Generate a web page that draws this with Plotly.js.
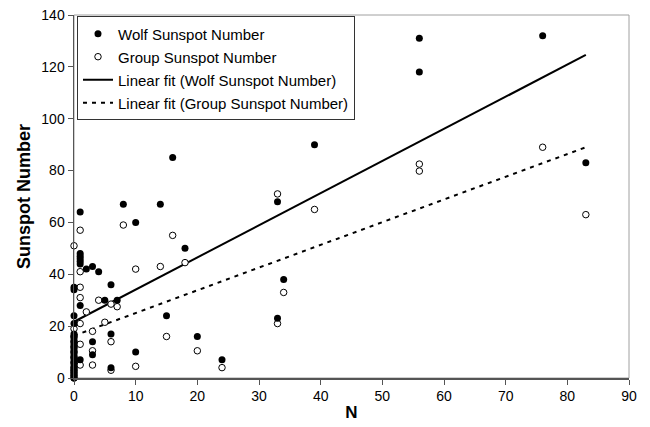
<!DOCTYPE html>
<html>
<head>
<meta charset="utf-8">
<script src="https://cdn.plot.ly/plotly-3.0.1.min.js"></script>
<style>html,body{margin:0;padding:0;background:#fff;}#chart{width:650px;height:427px;}</style>
</head>
<body>
<div id="chart"></div>
<script>
// Wolf Sunspot Number points (N, value)
var wolfN = [0,0,0,0,0,0,0,0,0,0,0,0,0,0,0,0,0,0,0,0,0,0,
             1,1,1,1,1,1,1,1, 2, 3,3,3, 4, 5, 6,6,6, 7, 8, 10,10, 14, 15, 16, 18, 20, 24, 33,33, 34, 39, 56,56, 76, 83];
var wolfSSN = [0,1,2,3,4,5,6,7,8,9,10,11,12,13,14,15,16,17,21,24,34,35,
               64,48,47,46,45,44,28,7, 42, 43,14,9, 41, 30, 36,17,4, 30, 67, 60,10, 67, 24, 85, 50, 16, 7, 68,23, 38, 90, 131,118, 132, 83];
// Group Sunspot Number points (N, value)
var groupN = [0,0,0,0,0,0,0,0,0,0,0,0,0,
              1,1,1,1,1,1,1, 2, 3,3,3, 4, 5, 6,6,6, 7, 8, 10,10, 14, 15, 16, 18, 20, 24, 33,33, 34, 39, 56,56, 76, 83];
var groupSSN = [0,1,2,3,4,6,8,10,12,14,16,19,51,
                57,41,35,31,21,13,5, 25.5, 18,10.5,5, 30, 21.5, 28.5,14,3, 27.5, 59, 42,4.5, 43, 16, 55, 44.5, 10.5, 4, 71,21, 33, 65, 82.5,79.8, 89, 63];
// Linear fit end points
var fitN = [0, 83];
var wolfFit = [21.7, 124.6];
var groupFit = [16.3, 89.0];

var xTicks = [0,10,20,30,40,50,60,70,80,90];
var yTicks = [0,20,40,60,80,100,120,140];

var FONT = "'Liberation Sans', Arial, sans-serif";

var traces = [
  {x: fitN, y: wolfFit, type: 'scatter', mode: 'lines', name: 'Linear fit (Wolf Sunspot Number)',
   legendgroup: 'c', legendrank: 3, line: {color: '#000', width: 2}},
  {x: fitN, y: groupFit, type: 'scatter', mode: 'lines', name: 'Linear fit (Group Sunspot Number)',
   legendgroup: 'd', legendrank: 4, line: {color: '#000', width: 2, dash: '4px,5px'}},
  {x: groupN, y: groupSSN, type: 'scatter', mode: 'markers', name: 'Group Sunspot Number',
   legendgroup: 'b', legendrank: 2, cliponaxis: false,
   marker: {symbol: 'circle', size: 6.5, color: '#fff', line: {width: 1, color: '#000'}}},
  {x: wolfN, y: wolfSSN, type: 'scatter', mode: 'markers', name: 'Wolf Sunspot Number',
   legendgroup: 'a', legendrank: 1, cliponaxis: false,
   marker: {symbol: 'circle', size: 7, color: '#000', line: {width: 0}}}
];

var layout = {
  width: 650, height: 427,
  margin: {l: 74, r: 21, t: 15, b: 49, pad: 0},
  paper_bgcolor: '#fff', plot_bgcolor: '#fff',
  font: {family: FONT, size: 14, color: '#000'},
  showlegend: true,
  legend: {x: 0.0054, y: 0.996, xanchor: 'left', yanchor: 'top',
           bgcolor: '#fff', bordercolor: '#333', borderwidth: 1,
           font: {family: FONT, size: 15, color: '#000'},
           traceorder: 'grouped', tracegroupgap: 0.5},
  xaxis: {range: [0, 90], tickvals: xTicks, ticktext: xTicks.map(String),
          showgrid: false, zeroline: false, showline: true, linecolor: '#555', linewidth: 1.5,
          ticks: 'outside', ticklen: 5, tickwidth: 1, tickcolor: '#555',
          tickfont: {family: FONT, size: 14, color: '#000'},
          title: {text: '<b>N</b>', font: {family: FONT, size: 17, color: '#000'}, standoff: 3}},
  yaxis: {range: [0, 140], tickvals: yTicks, ticktext: yTicks.map(String),
          showgrid: false, zeroline: false, showline: true, linecolor: '#555', linewidth: 1.5,
          ticks: 'outside', ticklen: 5, tickwidth: 1, tickcolor: '#555',
          tickfont: {family: FONT, size: 14, color: '#000'},
          title: {text: '<b>Sunspot Number</b>', font: {family: FONT, size: 18, color: '#000'}, standoff: 6}},
  shapes: [
    {type: 'rect', xref: 'paper', yref: 'paper', x0: 0, x1: 1, y0: 0, y1: 1,
     line: {color: '#a0a0a0', width: 1}, layer: 'below'}
  ]
};

Plotly.newPlot('chart', traces, layout, {displayModeBar: false, staticPlot: true});
</script>
</body>
</html>
